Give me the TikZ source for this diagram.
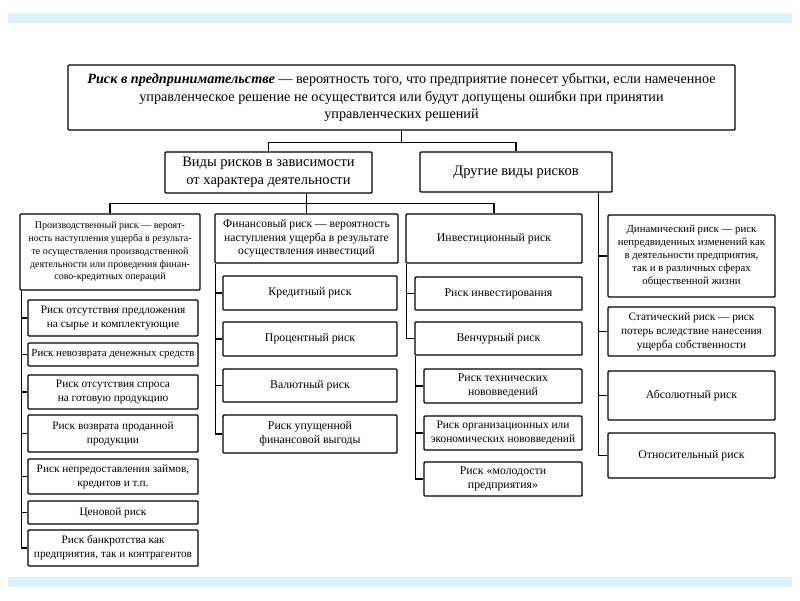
\documentclass[tikz,border=0pt]{standalone}
\usepackage{fontspec}
\setmainfont{Liberation Serif}
\definecolor{band}{RGB}{220,242,248}
\tikzset{
  box/.style={draw=black, line width=1.4pt, rounded corners=1pt, inner sep=1pt, align=center,
    font=\fontsize{11.8}{14}\selectfont},
  fc1/.style={font=\fontsize{11.3}{14}\selectfont},
  ln/.style={draw=black, line width=1.4pt},
}
\newcommand\bx[7][]{\node[box,#1, minimum width={(#5-#3)*1pt}, minimum height={(#6-#4)*1pt}] (#2) at ({(#3+#5)/2},{(#4+#6)/2}) {#7};}
\begin{document}
\begin{tikzpicture}[x=1pt,y=-1pt]
\useasboundingbox (0,0) rectangle (800,600);
\fill[white] (0,0) rectangle (800,600);
\fill[band] (8,13) rectangle (792,23);
\fill[band] (8,577) rectangle (792,587);

% top
\bx[font=\fontsize{14.2}{17.5}\selectfont]{top}{68}{65}{735}{130}{\textbf{\textit{Риск в предпринимательстве}} — вероятность того, что предприятие понесет убытки, если намеченное\\ управленческое решение не осуществится или будут допущены ошибки при принятии\\ управленческих решений}
% second level
\bx[font=\fontsize{14.5}{18}\selectfont]{vids}{165}{152}{372}{193}{Виды рисков в зависимости\\от характера деятельности}
\bx[font=\fontsize{14.5}{18}\selectfont]{other}{420}{152}{612}{192}{Другие виды рисков}

% column 1
\bx[font=\fontsize{10}{12.8}\selectfont]{prod}{20}{214}{200}{290}{Производственный риск — вероят-\\ность наступления ущерба в результа-\\те осуществления производственной\\деятельности или проведения финан-\\сово-кредитных операций}
\bx[fc1]{c1a}{28}{300}{198}{336}{Риск отсутствия предложения\\на сырье и комплектующие}
\bx[font=\fontsize{10.9}{14}\selectfont]{c1b}{28}{343}{198}{366}{Риск невозврата денежных средств}
\bx[fc1]{c1c}{28}{375}{198}{409}{Риск отсутствия спроса\\на готовую продукцию}
\bx[fc1]{c1d}{28}{415}{198}{452}{Риск возврата проданной\\продукции}
\bx[fc1]{c1e}{28}{459}{198}{494}{Риск непредоставления займов,\\кредитов и т.п.}
\bx[fc1]{c1f}{28}{501}{198}{524}{Ценовой риск}
\bx[fc1]{c1g}{28}{530}{198}{566}{Риск банкротства как\\предприятия, так и контрагентов}

% column 2
\bx[font=\fontsize{11.6}{13.5}\selectfont]{fin}{215}{214}{398}{263}{Финансовый риск — вероятность\\наступления ущерба в результате\\осуществления инвестиций}
\bx{c2a}{223}{276}{397}{310}{Кредитный риск}
\bx{c2b}{223}{322}{397}{356}{Процентный риск}
\bx{c2c}{223}{369}{397}{402}{Валютный риск}
\bx{c2d}{223}{415}{397}{453}{Риск упущенной\\финансовой выгоды}

% column 3
\bx{inv}{406}{214}{582}{263}{Инвестиционный риск}
\bx{c3a}{415}{277}{582}{310}{Риск инвестирования}
\bx{c3b}{415}{322}{582}{355}{Венчурный риск}
\bx{c3c}{424}{369}{582}{403}{Риск технических\\нововведений}
\bx[font=\fontsize{11.4}{14}\selectfont]{c3d}{424}{416}{582}{450}{Риск организационных или\\экономических нововведений}
\bx{c3e}{424}{462}{582}{496}{Риск «молодости\\предприятия»}

% column 4
\bx[font=\fontsize{10.8}{13.2}\selectfont]{dyn}{608}{215}{775}{297}{Динамический риск — риск\\непредвиденных изменений как\\в деятельности предприятия,\\так и в различных сферах\\общественной жизни}
\bx[fc1]{stat}{608}{307}{775}{356}{Статический риск — риск\\потерь вследствие нанесения\\ущерба собственности}
\bx{abs}{608}{371}{775}{420}{Абсолютный риск}
\bx{rel}{608}{433}{775}{478}{Относительный риск}

% connectors top
\draw[ln] (top.south) -- ++(0,12) coordinate (j1) -| (vids.north);
\draw[ln] (j1) -| (other.north);
\draw[ln] (fin.north) -- (fin.north |- vids.south);
\draw[ln] (prod.north) -- ++(0,-10) -| (inv.north);

% column 1 bus
\coordinate (b1) at ([xshift=2pt]prod.south west);
\draw[ln] (b1) |- (c1g.west);
\foreach \n in {c1a,c1b,c1c,c1d,c1e,c1f} \draw[ln] (b1 |- \n.west) -- (\n.west);
% column 2 bus
\coordinate (b2) at ([xshift=1pt]fin.south west);
\draw[ln] (b2) |- (c2d.west);
\foreach \n in {c2a,c2b,c2c} \draw[ln] (b2 |- \n.west) -- (\n.west);
% column 3 bus
\coordinate (b3) at ([xshift=1pt]inv.south west);
\draw[ln] (b3) |- (c3b.west);
\draw[ln] (b3 |- c3a.west) -- (c3a.west);
\coordinate (b3b) at ([xshift=1pt]c3b.south west);
\draw[ln] (b3b) |- (c3e.west);
\foreach \n in {c3c,c3d} \draw[ln] (b3b |- \n.west) -- (\n.west);
% column 4 bus
\coordinate (b4) at ([xshift=-14pt]other.south east);
\draw[ln] (b4) |- (rel.west);
\foreach \n in {dyn,stat,abs} \draw[ln] (b4 |- \n.west) -- (\n.west);
\end{tikzpicture}
\end{document}
